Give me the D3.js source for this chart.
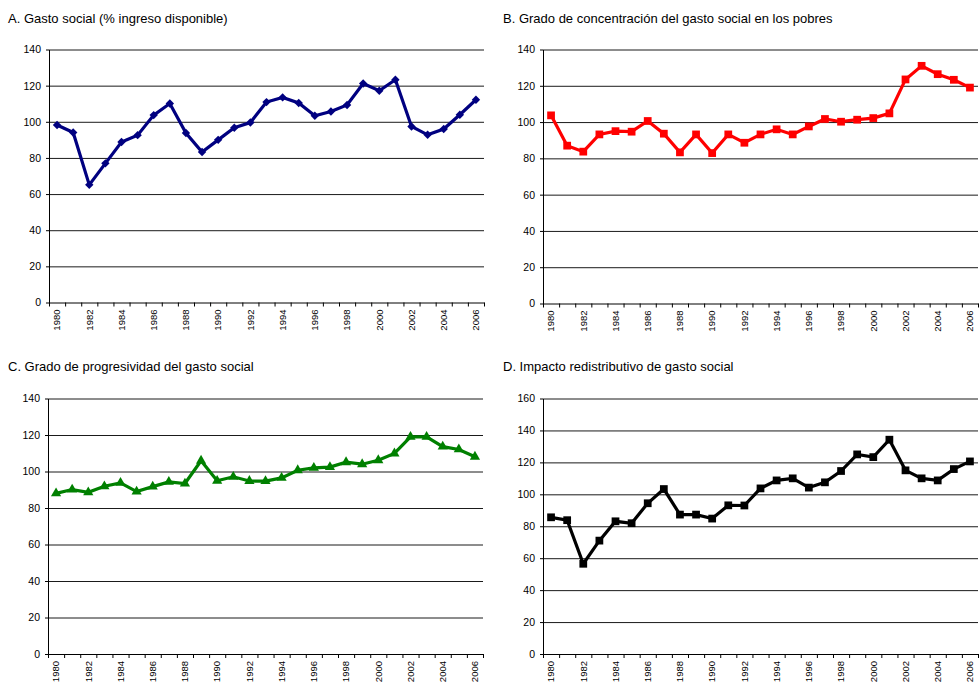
<!DOCTYPE html>
<html>
<head>
<meta charset="utf-8">
<script src="https://cdn.jsdelivr.net/npm/d3@7"></script>
<style>
  body { margin: 0; background: #fff; }
  svg { display: block; font-family: "Liberation Sans", Arial, sans-serif; }
  .title { font-size: 13px; fill: #000; }
  .yax text { font-size: 10.5px; fill: #000; }
  .xax text { font-size: 9.5px; fill: #000; }
</style>
</head>
<body>
<svg width="980" height="687"></svg>
<script>
let years = d3.range(1980, 2007)

let gastoSocial = [98.2, 94.1, 65.1, 77, 88.8, 92.6, 103.7, 110.1, 93.8, 83.3, 90, 96.7, 99.6,
  110.9, 113.5, 110.4, 103.3, 105.7, 109.3, 121.2, 117.2, 123.3, 97.4, 92.8, 96, 103.9, 112.2]

let concentracion = [103.7, 87, 83.7, 93.2, 95, 94.7, 100.6, 93.6, 83.3, 93.2, 82.9, 93.2, 88.6,
  93.2, 96, 93.2, 97.6, 101.7, 100.2, 101.3, 102.2, 104.8, 123.5, 131, 126.4, 123.3, 119]

let progresividad = [88, 90.1, 88.6, 91.9, 93.8, 89, 91.7, 94.3, 93.4, 105.9, 94.9, 97.1, 94.8,
  94.7, 96.5, 100.7, 102, 102.4, 105.1, 104, 106.2, 109.9, 119, 119, 113.6, 112.1, 108.1]

let impacto = [85.6, 83.8, 56.5, 71, 83.1, 81.9, 94.4, 103.3, 87.3, 87.3, 84.8, 93.1, 93,
  103.7, 108.7, 110, 104.2, 107.5, 114.6, 125, 123.3, 134.2, 115, 110, 108.7, 115.8, 120.6]

let ticks140 = [0, 20, 40, 60, 80, 100, 120, 140]
let ticks160 = [0, 20, 40, 60, 80, 100, 120, 140, 160]

let panels = [
  { title: 'A. Gasto social (% ingreso disponible)', values: gastoSocial, ticks: ticks140,
    color: '#000080', symbol: d3.symbolDiamond2, size: 45, left: 49, top: 49.5, bottom: 302.5, tx: 8, ty: 23 },
  { title: 'B. Grado de concentración del gasto social en los pobres', values: concentracion, ticks: ticks140,
    color: '#ff0000', symbol: d3.symbolSquare, size: 60, left: 543, top: 49.5, bottom: 303.5, tx: 503, ty: 23 },
  { title: 'C. Grado de progresividad del gasto social', values: progresividad, ticks: ticks140,
    color: '#008000', symbol: d3.symbolTriangle, size: 45, left: 48, top: 398.5, bottom: 654, tx: 8, ty: 371 },
  { title: 'D. Impacto redistributivo de gasto social', values: impacto, ticks: ticks160,
    color: '#000000', symbol: d3.symbolSquare, size: 60, left: 543, top: 398.5, bottom: 654, tx: 503, ty: 371 }
]

let svg = d3.select('svg')
let w = 435

panels.forEach(p => {
  svg.append('text')
    .attr('class', 'title')
    .attr('x', p.tx)
    .attr('y', p.ty)
    .text(p.title)

  let g = svg.append('g').attr('transform', `translate(${p.left},${p.top})`)
  let h = p.bottom - p.top

  let x = d3.scaleBand().domain(years).range([0, w])
  let xEdge = d3.scaleLinear().domain([0, years.length]).range([0, w])
  let y = d3.scaleLinear().domain([0, d3.max(p.ticks)]).range([h, 0])

  // gridlines
  g.append('g')
    .attr('class', 'grid')
    .call(d3.axisLeft(y).tickValues(p.ticks.slice(1)).tickSize(-w).tickFormat(''))
    .call(s => s.select('.domain').remove())
    .call(s => s.selectAll('line').attr('stroke', '#1a1a1a').attr('stroke-width', 1))

  // y axis
  g.append('g')
    .attr('class', 'yax')
    .call(d3.axisLeft(y).tickValues(p.ticks).tickSize(3).tickPadding(5).tickSizeOuter(0))
    .call(s => s.selectAll('line, .domain').attr('stroke', '#000'))

  // x axis tick marks on the category edges
  g.append('g')
    .attr('transform', `translate(0,${h})`)
    .call(d3.axisBottom(xEdge).tickValues(d3.range(years.length + 1)).tickSize(4).tickFormat('').tickSizeOuter(0))
    .call(s => s.selectAll('line, .domain').attr('stroke', '#000'))

  // x axis labels, every other year
  g.append('g')
    .attr('class', 'xax')
    .attr('transform', `translate(0,${h})`)
    .call(d3.axisBottom(x).tickValues(years.filter((d, i) => i % 2 === 0)).tickSize(0))
    .call(s => s.select('.domain').remove())
    .call(s => s.selectAll('text')
      .attr('transform', 'rotate(-90)')
      .attr('x', -7)
      .attr('y', 0)
      .attr('dy', '0.35em')
      .style('text-anchor', 'end'))

  let line = d3.line()
    .x((d, i) => x(years[i]) + x.bandwidth() / 2)
    .y(d => y(d))

  g.append('path')
    .datum(p.values)
    .attr('fill', 'none')
    .attr('stroke', p.color)
    .attr('stroke-width', 3.2)
    .attr('stroke-linejoin', 'miter')
    .attr('d', line)

  let sym = d3.symbol().type(p.symbol).size(p.size)

  g.append('g')
    .selectAll('path')
    .data(p.values)
    .enter().append('path')
    .attr('d', sym)
    .attr('fill', p.color)
    .attr('transform', (d, i) => `translate(${x(years[i]) + x.bandwidth() / 2},${y(d)})`)
})
</script>
</body>
</html>
